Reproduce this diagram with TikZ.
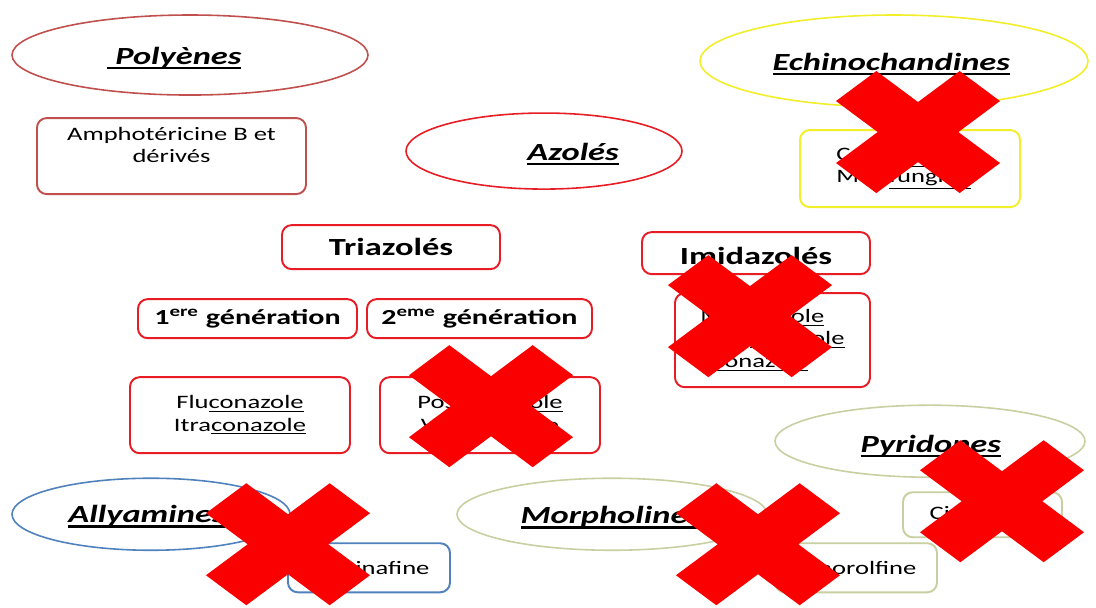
\documentclass[tikz,border=0pt]{standalone}
\usepackage{fontspec}
\setmainfont{Carlito}
\usetikzlibrary{shapes.geometric}
\definecolor{poly}{RGB}{192,80,77}
\definecolor{azol}{RGB}{232,28,36}
\definecolor{echi}{RGB}{242,238,40}
\definecolor{ally}{RGB}{79,129,189}
\definecolor{olive}{RGB}{200,207,160}
\definecolor{croixrouge}{RGB}{250,0,0}
\newcommand\ttl[1]{\setbox0\hbox{#1}\leavevmode\rlap{\rule[-3pt]{\wd0}{1.2pt}}\box0}
\tikzset{sz/.style 2 args={minimum width=#1*0.0142857cm,minimum height=#2*0.02cm}}

\begin{document}
\begin{tikzpicture}[x=0.0142857cm,y=-0.02cm,xscale=1.4,transform shape,
  every node/.style={inner sep=0pt}]
\tikzstyle{ell}=[ellipse,line width=.9pt]
\tikzstyle{boite}=[rectangle,rounded corners=5.5pt,line width=1.1pt,align=center,font=\fontsize{10.8}{12.8}\selectfont]
\tikzstyle{titre}=[anchor=base west,font=\fontsize{14}{16}\selectfont\bfseries\itshape]
\tikzstyle{groupe}=[font=\fontsize{14}{16}\selectfont\bfseries]
\tikzstyle{gen}=[font=\fontsize{12.2}{14}\selectfont\bfseries]
\tikzset{croix/.pic={\fill[croixrouge,xscale=.96] (0.62cm,1.22cm)--(1.22cm,0.62cm)--(0.6cm,0cm)--(1.22cm,-0.62cm)--(0.62cm,-1.22cm)--(0cm,-0.6cm)--(-0.62cm,-1.22cm)--(-1.22cm,-0.62cm)--(-0.6cm,0cm)--(-1.22cm,0.62cm)--(-0.62cm,1.22cm)--(0cm,0.6cm)--cycle;}}
\fill[white] (0,0) rectangle (1096,607);
\node[ell,draw=poly,sz={356}{80}] (poly) at (190,55) {};
\node[titre] (polyt) at (107,64) {\ttl{\ Polyènes}};
\node[boite,draw=poly,sz={269}{76}] (amph) at (171.5,156) {Amphotéricine B et\\dérivés\\\mbox{}};
\node[ell,draw=azol,sz={276}{76}] (azo) at (544,151) {};
\node[titre] (azot) at (527,160) {\ttl{Azolés}};
\node[ell,draw=echi,sz={388}{92}] (echi) at (894,61) {};
\node[titre] (echit) at (772,70) {\ttl{Echinochandines}};
\node[boite,draw=echi,align=left,sz={220}{77}] (echib) at (910,168.5) {Caspo\underline{fungine}\\Mica\underline{fungine}};
\node[boite,draw=azol,groupe,sz={218}{44}] (tri) at (391,247) {Triazolés};
\node[boite,draw=azol,gen,sz={219}{39}] (gen1) at (247.5,318.5) {1\textsuperscript{ere} génération};
\node[boite,draw=azol,gen,sz={225}{39}] (gen2) at (479.5,318.5) {2\textsuperscript{eme} génération};
\node[boite,draw=azol,groupe,text height=12.5pt,sz={228}{42}] (imi) at (756,253) {Imidazolés};
\node[boite,draw=azol,align=left,sz={195}{94}] (imib) at (772.5,340) {Mi\underline{conazole}\\Kéto\underline{conazole}\\É\underline{conazole}};
\node[boite,draw=azol,sz={220}{76}] (flu) at (240,415) {Flu\underline{conazole}\\Itra\underline{conazole}};
\node[boite,draw=azol,sz={220}{76}] (posa) at (490,415) {Posa\underline{conazole}\\Vori\underline{conazole}};
\node[ell,draw=olive,sz={310}{72}] (pyri) at (930,441) {};
\node[titre] (pyrit) at (860,452) {\ttl{Pyridones}};
\node[boite,draw=olive,sz={159}{45}] (cic) at (982.5,514.5) {Ciclopirox};
\node[ell,draw=ally,sz={278}{72}] (ally) at (151,514) {};
\node[titre] (allyt) at (68,522) {\ttl{Allyamines}};
\node[boite,draw=ally,sz={162}{49}] (terb) at (369,567.5) {Terbinafine};
\node[ell,draw=olive,sz={310}{72}] (morph) at (612,514) {};
\node[titre] (morpht) at (520,523) {\ttl{Morpholines}};
\node[boite,draw=olive,sz={162}{49}] (amor) at (856,567.5) {Amorolfine};
\foreach \x/\y in {918/132,750/316,491/406,288/544,758/544,1002/501} \pic at (\x,\y) {croix};
\end{tikzpicture}
\end{document}
